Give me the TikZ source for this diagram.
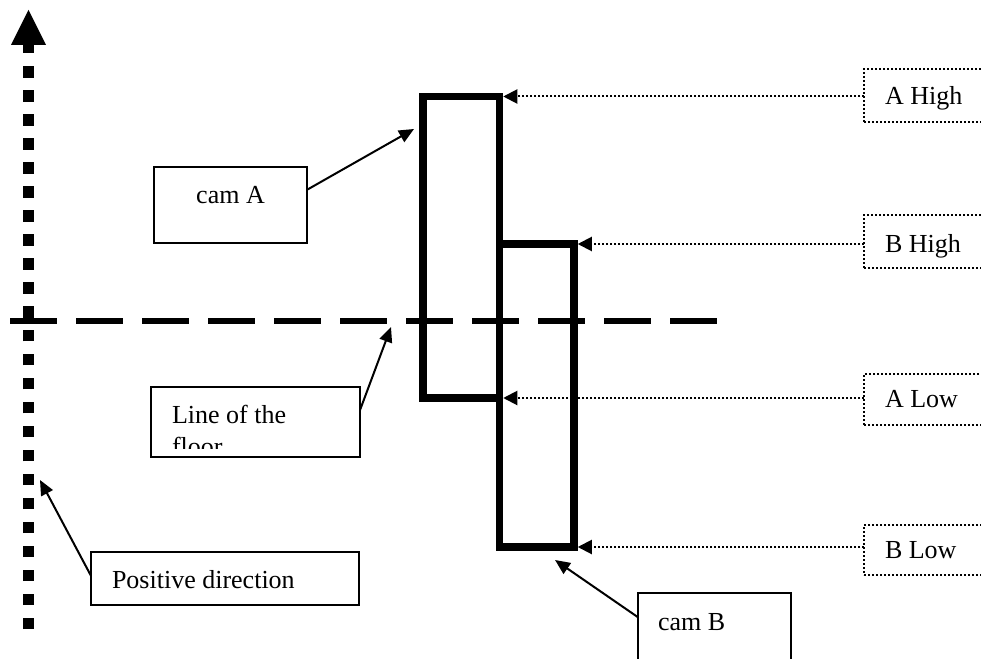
\documentclass[tikz,border=0pt]{standalone}
\usepackage{fontspec}
\setmainfont{Liberation Serif}
\usetikzlibrary{arrows.meta,calc}
\begin{document}
\begin{tikzpicture}[x=1pt,y=-1pt,
  lbl/.style={font=\fontsize{26}{30}\selectfont, inner sep=0pt, outer sep=0pt},
  tagbox/.style={draw, line width=1.8pt, inner sep=0pt, outer sep=0pt},
  dotbox/.style={draw, line width=2pt, dash pattern=on 2pt off 2pt, inner sep=0pt, outer sep=0pt},
  cambar/.style={draw, line width=7.5pt, inner sep=0pt, outer ysep=0pt, outer xsep=3.75pt},
  pointer/.style={line width=2pt, -{Triangle[length=15pt,width=13pt]}},
  levelline/.style={line width=2pt, dash pattern=on 2pt off 2pt, -{Triangle[length=14pt,width=14pt]}},
]
\clip (0,0) rectangle (981,658);

% vertical axis: dotted shaft with a solid arrow head
\coordinate (axisBot) at (28.5,629);
\coordinate (axisDotTop) at (28.5,66);
\coordinate (axisStem) at (28.5,53);
\coordinate (axisTip) at (28.5,10);
\draw[line width=11.5pt, dash pattern=on 11.5pt off 12.46pt] (axisBot) -- (axisDotTop);
\draw[line width=11pt] (axisStem) -- (28.5,44);
\fill (axisTip) -- (46,45) -- (11,45) -- cycle;

% floor line
\coordinate (floorL) at (10,321);
\coordinate (floorR) at (717,321);
\draw[line width=6pt, dash pattern=on 47pt off 19pt] (floorL) -- (floorR);

% the two cam bars
\node[cambar, minimum width=76.5pt, minimum height=301.5pt] (rA) at (461.25,247.25) {};
\node[cambar, minimum width=74.5pt, minimum height=303pt] (rB) at (536.75,395.5) {};

% level tags on the right
\node[dotbox, minimum width=146pt, minimum height=53pt] (AHigh) at (937,95.5) {};
\node[dotbox, minimum width=146pt, minimum height=53pt] (BHigh) at (937,241.5) {};
\node[dotbox, minimum width=146pt, minimum height=51pt] (ALow) at (937,399.5) {};
\node[dotbox, minimum width=146pt, minimum height=50pt] (BLow) at (937,550) {};
\node[lbl, anchor=base west] (AHighTxt) at (885,105) {A High};
\node[lbl, anchor=base west] (BHighTxt) at (885,252) {B High};
\node[lbl, anchor=base west] (ALowTxt) at (885,407) {A Low};
\node[lbl, anchor=base west] (BLowTxt) at (885,558) {B Low};

\draw[levelline] (AHigh.west |- rA.north east) -- (rA.north east);
\draw[levelline] (BHigh.west |- rB.north east) -- (rB.north east);
\draw[levelline] (ALow.west |- rA.south east) -- (rA.south east);
\draw[levelline] (BLow.west |- rB.south east) -- (rB.south east);

% labelled boxes
\node[tagbox, minimum width=153pt, minimum height=76pt] (camAbox) at (230.5,205) {};
\node[lbl, anchor=base] (camATxt) at (230.5,203) {cam A};

\node[tagbox, minimum width=209pt, minimum height=70pt] (floorbox) at (255.5,422) {};
\node[lbl, anchor=base west] (floorTxtA) at (172,423) {Line of the};
\begin{scope}
  \clip (152,388) rectangle (359,448);
  \node[lbl, anchor=base west] (floorTxtB) at (172,455) {floor};
\end{scope}

\node[tagbox, minimum width=268pt, minimum height=53pt] (posbox) at (225,578.5) {};
\node[lbl, anchor=base west] (posTxt) at (112,588) {Positive direction};

\node[tagbox, minimum width=153pt, minimum height=97pt] (camBbox) at (714.5,641.5) {};
\node[lbl, anchor=base west] (camBTxt) at (658,630) {cam B};

% pointers from the labels
\coordinate (camATip) at (414,129);
\coordinate (floorTip) at (391,327);
\coordinate (posTip) at (40,480);
\coordinate (camBTip) at (555,560);
\draw[pointer] ($(camAbox.north east)!0.3!(camAbox.south east)$) -- (camATip);
\draw[pointer] ($(floorbox.north east)!0.33!(floorbox.south east)$) -- (floorTip);
\draw[pointer] ($(posbox.north west)!0.45!(posbox.south west)$) -- (posTip);
\draw[pointer] ($(camBbox.north west)!0.25!(camBbox.south west)$) -- (camBTip);
\end{tikzpicture}
\end{document}
